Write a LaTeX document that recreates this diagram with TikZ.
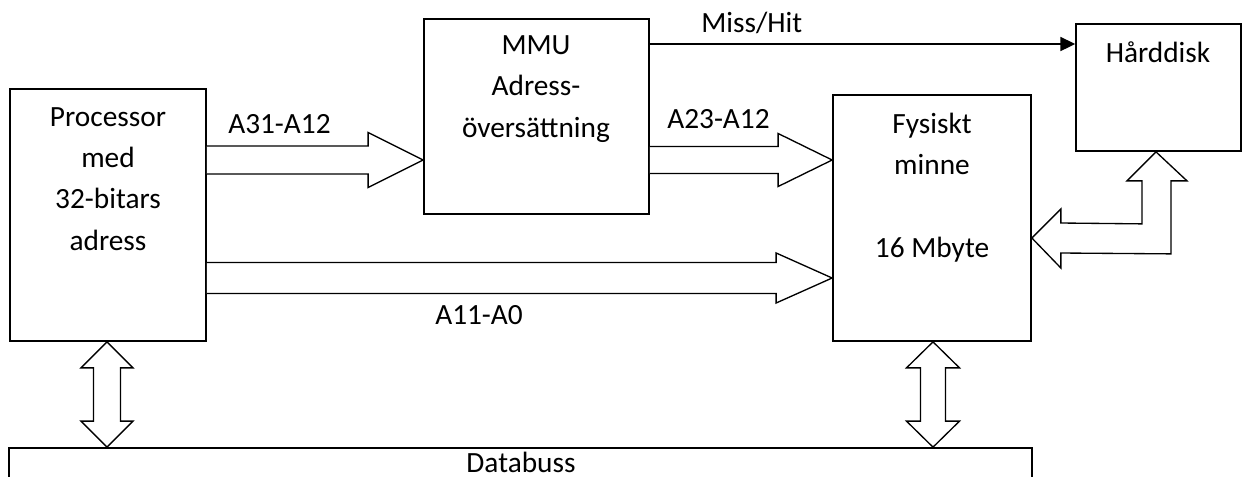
\documentclass[tikz,border=0pt]{standalone}
\usepackage{fontspec}
\setmainfont{Carlito}
\usetikzlibrary{fit,calc,arrows.meta}
\tikzset{
  box/.style={draw, line width=1.3pt, inner sep=0pt, fill=white},
  txt/.style={inner sep=0pt, align=center, font=\fontsize{22}{31}\selectfont},
  lbl/.style={inner sep=0pt, font=\fontsize{22}{31}\selectfont},
  fat/.style={draw, line width=1pt, fill=white, line join=miter},
}
\newcommand\hfat[5]{\path[fat] ($(#1)+(0,-#3)$) -- ($(#2)+(-#5,-#3)$) -- ($(#2)+(-#5,-#4)$) -- (#2) -- ($(#2)+(-#5,#4)$) -- ($(#2)+(-#5,#3)$) -- ($(#1)+(0,#3)$);}
\newcommand\vfat[5]{\path[fat] (#1) -- ($(#1)+(#4,#5)$) -- ($(#1)+(#3,#5)$) -- ($(#2)+(#3,-#5)$) -- ($(#2)+(#4,-#5)$) -- (#2) -- ($(#2)+(-#4,-#5)$) -- ($(#2)+(-#3,-#5)$) -- ($(#1)+(-#3,#5)$) -- ($(#1)+(-#4,#5)$) -- cycle;}
\begin{document}
\begin{tikzpicture}[x=0.75pt,y=-0.75pt]
\useasboundingbox (0,0) rectangle (1243,476);
% boxes
\node[box, fit={(10,89)(206,341)}] (proc) {};
\node[box, fit={(424,19)(649,214)}] (mmu) {};
\node[box, fit={(833,95)(1031,341)}] (mem) {};
\node[box, fit={(1076,24)(1241,151)}] (disk) {};
\node[box, fit={(9,448)(1032,490)}] (bus) {};
% texts (base anchor = baseline of last line)
\node[txt, anchor=base] (proct) at (108,250) {Processor\\med\\32-bitars\\adress};
\node[txt, anchor=base] (mmut) at (536,137) {MMU\\Adress-\\översättning};
\node[txt, anchor=base] (memt) at (932,257) {Fysiskt\\minne\\ \\16 Mbyte};
\node[txt, anchor=base] (diskt) at (1158,62) {Hårddisk};
\node[txt, anchor=base] (bust) at (521,472) {Databuss};
% labels
\node[lbl, anchor=base west] (l1) at (228,133) {A31-A12};
\node[lbl, anchor=base west] (l2) at (667,128) {A23-A12};
\node[lbl, anchor=base west] (l3) at (701,32) {Miss/Hit};
\node[lbl, anchor=base west] (l4) at (435,324) {A11-A0};
% connector points
\coordinate (a1s) at (proc.east |- 0,160);
\coordinate (a1e) at (mmu.west |- 0,160);
\coordinate (a2s) at (mmu.east |- 0,160);
\coordinate (a2e) at (mem.west |- 0,160);
\coordinate (a3s) at (proc.east |- 0,278);
\coordinate (a3e) at (mem.west |- 0,278);
\hfat{a1s}{a1e}{14}{27.5}{55}
\hfat{a2s}{a2e}{13.5}{26.5}{54}
\hfat{a3s}{a3e}{15.5}{25}{56}
% miss/hit
\draw[line width=1.3pt, -{Triangle[length=11pt,width=10.5pt]}] (mmu.east |- 0,44) -- (disk.west |- 0,44);
% vertical bus arrows
\coordinate (v1t) at (proc.south -| 107,0);
\coordinate (v1b) at (bus.north -| 107,0);
\coordinate (v2t) at (mem.south -| 933,0);
\coordinate (v2b) at (bus.north -| 933,0);
\vfat{v1t}{v1b}{13.5}{26}{26}
\vfat{v2t}{v2b}{12.5}{26.5}{26}
% bent double arrow memory <-> disk
\coordinate (dt) at (disk.south -| 1156,0);
\coordinate (mt) at (mem.east |- 0,238);
\path[fat] (mt) -- ($(mt)+(29,-29)$) -- ($(mt)+(29,-15)$) -- ($(dt)+(-14,72)$) -- ($(dt)+(-14,29)$) -- ($(dt)+(-29,29)$) -- (dt) -- ($(dt)+(31,29)$) -- ($(dt)+(15,29)$) -- ($(dt)+(15,102)$) -- ($(mt)+(29,15)$) -- ($(mt)+(29,30)$) -- cycle;
\end{tikzpicture}
\end{document}
